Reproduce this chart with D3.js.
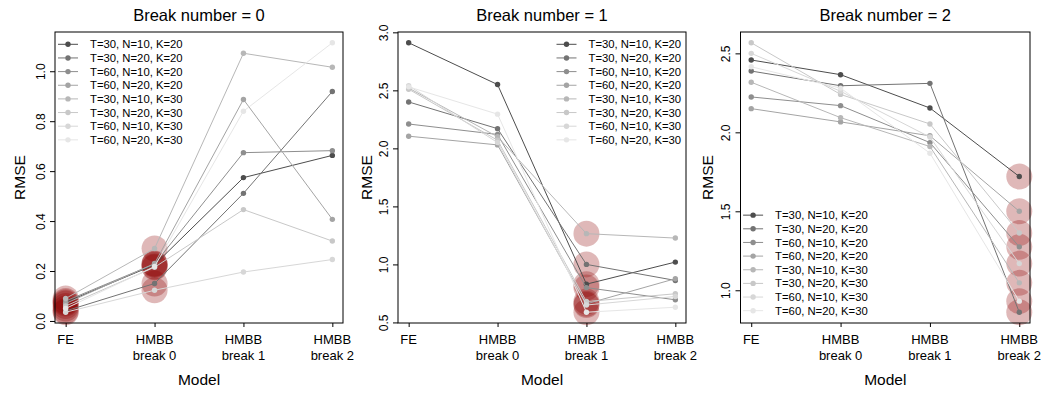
<!DOCTYPE html>
<html>
<head>
<meta charset="utf-8">
<script src="https://cdn.jsdelivr.net/npm/d3@7"></script>
<style>
  body { margin: 0; background: #fff; }
  svg { display: block; font-family: "Liberation Sans", Arial, Helvetica, sans-serif; }
</style>
</head>
<body>
<svg id="chart" width="1049" height="393"></svg>
<script>
// models on the x axis (second line of the label under the first)
const models = [["FE"], ["HMBB", "break 0"], ["HMBB", "break 1"], ["HMBB", "break 2"]];

const seriesNames = [
  "T=30, N=10, K=20", "T=30, N=20, K=20", "T=60, N=10, K=20", "T=60, N=20, K=20",
  "T=30, N=10, K=30", "T=30, N=20, K=30", "T=60, N=10, K=30", "T=60, N=20, K=30"
];

// RMSE per series, values for FE, HMBB break 0, break 1, break 2
const rmseBreak0 = [
  [0.075, 0.225, 0.574, 0.663],
  [0.040, 0.150, 0.511, 0.919],
  [0.080, 0.228, 0.674, 0.682],
  [0.070, 0.230, 0.887, 0.407],
  [0.090, 0.290, 1.072, 1.016],
  [0.060, 0.215, 0.446, 0.320],
  [0.035, 0.123, 0.196, 0.246],
  [0.050, 0.218, 0.840, 1.114]
];
const rmseBreak1 = [
  [2.910, 2.550, 0.830, 1.020],
  [2.400, 2.170, 1.000, 0.862],
  [2.210, 2.120, 0.800, 0.695],
  [2.105, 2.030, 0.660, 0.877],
  [2.520, 2.100, 1.265, 1.227],
  [2.510, 2.070, 0.680, 0.747],
  [2.540, 2.050, 0.650, 0.724],
  [2.530, 2.295, 0.588, 0.631]
];
const rmseBreak2 = [
  [2.458, 2.365, 2.154, 1.720],
  [2.388, 2.295, 2.310, 0.861],
  [2.224, 2.169, 1.935, 1.275],
  [2.150, 2.066, 1.978, 1.500],
  [2.317, 2.093, 1.910, 1.047],
  [2.567, 2.240, 2.053, 1.363],
  [2.500, 2.260, 1.970, 1.169],
  [2.415, 2.280, 1.868, 0.931]
];

// which model is the true one in each panel (gets the red halo)
const trueModels = [[0, 1], [2], [3]];

const yTicks0 = [0.0, 0.2, 0.4, 0.6, 0.8, 1.0];
const yTicks1 = [0.5, 1.0, 1.5, 2.0, 2.5, 3.0];
const yTicks2 = [1.0, 1.5, 2.0, 2.5];

const titles = ["Break number = 0", "Break number = 1", "Break number = 2"];

// grey palette, dark to light
const greys = ["#4d4d4d", "#737373", "#8e8e8e", "#a4a4a4", "#b7b7b7", "#c8c8c8", "#d7d7d7", "#e6e6e6"];

const panels = [
  { data: rmseBreak0, ticks: yTicks0, left: 55, right: 343, ylab: 25, legend: "topleft" },
  { data: rmseBreak1, ticks: yTicks1, left: 398, right: 686, ylab: 372, legend: "topright" },
  { data: rmseBreak2, ticks: yTicks2, left: 740.5, right: 1030, ylab: 713, legend: "bottomleft" }
];
const plotTop = 32, plotBottom = 323;

const svg = d3.select("#chart");

panels.forEach((p, pi) => {
  const g = svg.append("g");

  const x = d3.scaleLinear()
    .domain([-0.12, 3.12])
    .range([p.left, p.right]);

  const all = p.data.flat();
  const [lo, hi] = d3.extent(all);
  const pad = (hi - lo) * 0.04;
  const y = d3.scaleLinear()
    .domain([lo - pad, hi + pad])
    .range([plotBottom, plotTop]);

  // title
  g.append("text")
    .attr("x", (p.left + p.right) / 2)
    .attr("y", 21)
    .attr("text-anchor", "middle")
    .attr("font-size", 16.5)
    .attr("fill", "#000")
    .text(titles[pi]);

  // y axis
  const yAxis = d3.axisLeft(y)
    .tickValues(p.ticks)
    .tickFormat(d3.format(".1f"))
    .tickSize(5)
    .tickSizeOuter(0);
  g.append("g")
    .attr("transform", `translate(${p.left},0)`)
    .call(yAxis)
    .call(a => a.select(".domain").remove())
    .call(a => a.selectAll("line").attr("stroke", "#000"))
    .call(a => a.selectAll("text")
      .attr("transform", "rotate(-90)")
      .attr("x", 0)
      .attr("y", -10.5)
      .attr("dy", 0)
      .attr("text-anchor", "middle")
      .attr("font-size", 12)
      .attr("font-family", "Liberation Sans, Arial, sans-serif")
      .attr("fill", "#000"));

  // x axis
  const xAxis = d3.axisBottom(x)
    .tickValues([0, 1, 2, 3])
    .tickFormat("")
    .tickSize(4)
    .tickSizeOuter(0);
  g.append("g")
    .attr("transform", `translate(0,${plotBottom})`)
    .call(xAxis)
    .call(a => a.select(".domain").remove())
    .call(a => a.selectAll("line").attr("stroke", "#000"));

  const xLabels = g.append("g")
    .attr("font-size", 13)
    .attr("text-anchor", "middle")
    .attr("fill", "#000");
  models.forEach((m, mi) => {
    m.forEach((txt, li) => {
      xLabels.append("text")
        .attr("x", x(mi))
        .attr("y", 344 + li * 16)
        .text(txt);
    });
  });

  // axis titles
  g.append("text")
    .attr("x", (p.left + p.right) / 2)
    .attr("y", 385)
    .attr("text-anchor", "middle")
    .attr("font-size", 15.5)
    .attr("fill", "#000")
    .text("Model");
  g.append("text")
    .attr("transform", `translate(${p.ylab},${(plotTop + plotBottom) / 2}) rotate(-90)`)
    .attr("text-anchor", "middle")
    .attr("font-size", 15.5)
    .attr("fill", "#000")
    .text("RMSE");

  // halos at the true model, under the lines
  const halos = [];
  p.data.forEach(s => trueModels[pi].forEach(m => halos.push({ m, v: s[m] })));
  g.append("g")
    .selectAll("circle")
    .data(halos)
    .join("circle")
    .attr("cx", d => x(d.m))
    .attr("cy", d => y(d.v))
    .attr("r", 13)
    .attr("fill", "#8b0000")
    .attr("fill-opacity", 0.28);

  // series
  const line = d3.line()
    .x((d, i) => x(i))
    .y(d => y(d));

  const series = g.append("g")
    .selectAll("g")
    .data(p.data.map((values, si) => ({ values, color: greys[si] })))
    .join("g");
  series.append("path")
    .attr("d", d => line(d.values))
    .attr("fill", "none")
    .attr("stroke", d => d.color)
    .attr("stroke-width", 1);
  series.selectAll("circle")
    .data(d => d.values.map(v => ({ v, color: d.color })))
    .join("circle")
    .attr("cx", (d, i) => x(i))
    .attr("cy", d => y(d.v))
    .attr("r", 2.7)
    .attr("fill", d => d.color);

  // box
  g.append("rect")
    .attr("x", p.left)
    .attr("y", plotTop)
    .attr("width", p.right - p.left)
    .attr("height", plotBottom - plotTop)
    .attr("fill", "none")
    .attr("stroke", "#000")
    .attr("stroke-width", 1);

  // legend
  const rowGap = 13.65;
  let lx, ly;
  if (p.legend === "topleft") { lx = p.left + 3; ly = plotTop + 12.3; }
  if (p.legend === "topright") { lx = p.right - 129.5; ly = plotTop + 12.3; }
  if (p.legend === "bottomleft") { lx = p.left + 2.6; ly = plotBottom - 12.3 - 7 * rowGap; }

  const legend = g.append("g")
    .attr("transform", `translate(${lx},${ly})`)
    .selectAll("g")
    .data(seriesNames)
    .join("g")
    .attr("transform", (d, i) => `translate(0,${i * rowGap})`);
  legend.append("line")
    .attr("x1", 0)
    .attr("x2", 20)
    .attr("stroke", (d, i) => greys[i])
    .attr("stroke-width", 1);
  legend.append("circle")
    .attr("cx", 10)
    .attr("r", 2.7)
    .attr("fill", (d, i) => greys[i]);
  legend.append("text")
    .attr("x", 32)
    .attr("dy", "0.36em")
    .attr("font-size", 11.3)
    .attr("fill", "#000")
    .text(d => d);
});
</script>
</body>
</html>
